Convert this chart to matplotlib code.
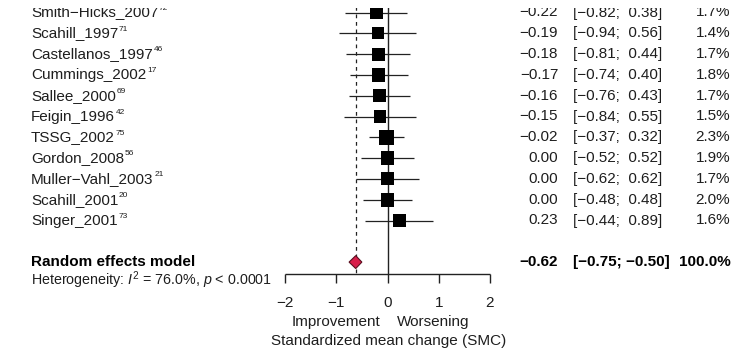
import matplotlib
matplotlib.use("Agg")
import matplotlib.pyplot as plt
from matplotlib.patches import Polygon, Rectangle
import numpy as np

plt.rcParams['font.family'] = ['Liberation Sans', 'DejaVu Sans']
plt.rcParams['mathtext.fontset'] = 'custom'
plt.rcParams['mathtext.rm'] = 'Liberation Sans'
plt.rcParams['mathtext.it'] = 'Liberation Sans:italic'
plt.rcParams['mathtext.bf'] = 'Liberation Sans:bold'

# Study-level data
studies = ["Smith\u2212Hicks_2007", "Scahill_1997", "Castellanos_1997", "Cummings_2002",
           "Sallee_2000", "Feigin_1996", "TSSG_2002", "Gordon_2008",
           "Muller\u2212Vahl_2003", "Scahill_2001", "Singer_2001"]
refs = ["72", "71", "46", "17", "69", "42", "75", "56", "21", "20", "73"]
smc = [-0.22, -0.19, -0.18, -0.17, -0.16, -0.15, -0.02, 0.00, 0.00, 0.00, 0.23]
ci_lo = [-0.82, -0.94, -0.81, -0.74, -0.76, -0.84, -0.37, -0.52, -0.62, -0.48, -0.44]
ci_hi = [0.38, 0.56, 0.44, 0.40, 0.43, 0.55, 0.32, 0.52, 0.62, 0.48, 0.89]
weights = [1.7, 1.4, 1.7, 1.8, 1.7, 1.5, 2.3, 1.9, 1.7, 2.0, 1.6]

# Pooled random-effects estimate
re_est, re_lo, re_hi, re_weight = -0.62, -0.75, -0.50, 100.0

xticks = [-2, -1, 0, 1, 2]

TXT = '#1e1e1e'


def fmt(v):
    return f"{v:.2f}".replace('-', '\u2212')


fig = plt.figure(figsize=(7.51, 3.51), dpi=100)
ax = fig.add_axes([0, 0, 1, 1])
ax.set_axis_off()
# x in SMC units, y in row units (row 0 = first study)
px_per_unit = 51.25
x0_px = 387.5
ax.set_xlim(-x0_px / px_per_unit, (751 - x0_px) / px_per_unit)
row_h = 20.8
y0_px = 12.5
ax.set_ylim((351 - y0_px) / row_h, -y0_px / row_h)

n = len(studies)
rows = np.arange(n)
sum_row = 12
het_row = 12.85
axis_y = 12.55

x_label = -6.955
x_est = 3.33
x_ci = 3.62
x_w = 6.69
fs = 11

# reference lines
ax.vlines(0, -1, axis_y, color='#222222', lw=1.0, zorder=1)
ax.vlines(re_est, -1, axis_y, color='#222222', lw=0.9, linestyles=(0, (3, 3)), zorder=1)

# confidence intervals and weighted squares
ax.hlines(rows, ci_lo, ci_hi, color='#222222', lw=0.9, zorder=2)
sizes = 50.7 * np.array(weights)
ax.scatter(smc, rows, s=sizes, marker='s', color='black', zorder=3, linewidths=0)

# summary diamond
dh = 0.31
diamond = Polygon([(re_lo, sum_row), (re_est, sum_row - dh), (re_hi, sum_row), (re_est, sum_row + dh)],
                  closed=True, facecolor='#d81e4a', edgecolor='#5a1020', lw=0.8, zorder=4)
ax.add_patch(diamond)

# x axis
ax.hlines(axis_y, xticks[0], xticks[-1], color='#222222', lw=1.0)
ax.vlines(xticks, axis_y, axis_y + 0.45, color='#222222', lw=1.0)
for t in xticks:
    ax.text(t, 13.95, fmt(t).replace('.00', ''), ha='center', va='center', fontsize=fs, color=TXT)
ax.text(-1.0, 14.88, "Improvement", ha='center', va='center', fontsize=fs, color=TXT)
ax.text(0.89, 14.88, "Worsening", ha='center', va='center', fontsize=fs, color=TXT)
ax.text(0.03, 15.8, "Standardized mean change (SMC)", ha='center', va='center', fontsize=fs, color=TXT)

# study labels and numeric columns
for i in range(n):
    lab = ax.text(x_label, i, studies[i], ha='left', va='center', fontsize=fs, color=TXT)
    ax.annotate(refs[i], xy=(1.0, 0.8), xycoords=lab, xytext=(0.4, 0), textcoords='offset points',
                ha='left', va='center', fontsize=6, color=TXT)
    ax.text(x_est, i, fmt(smc[i]), ha='right', va='center', fontsize=fs, color=TXT)
    sep = ';  ' if ci_hi[i] >= 0 else '; '
    ax.text(x_ci, i, f"[{fmt(ci_lo[i])}{sep}{fmt(ci_hi[i])}]",
            ha='left', va='center', fontsize=fs, color=TXT)
    ax.text(x_w, i, f"{weights[i]:.1f}%", ha='right', va='center', fontsize=fs, color=TXT)

# summary row
ax.text(x_label, sum_row, "Random effects model", ha='left', va='center', fontsize=fs,
        fontweight='bold', color='black')
ax.text(x_est, sum_row, fmt(re_est), ha='right', va='center', fontsize=fs, fontweight='bold', color='black')
ax.text(x_ci, sum_row, f"[{fmt(re_lo)}; {fmt(re_hi)}]", ha='left', va='center', fontsize=fs,
        fontweight='bold', color='black')
ax.text(x_w, sum_row, f"{re_weight:.1f}%", ha='right', va='center', fontsize=fs, fontweight='bold', color='black')
ax.text(x_label, het_row, r"Heterogeneity: $I^2$ = 76.0%, $p$ < 0.0001", ha='left', va='center',
        fontsize=10.3, color=TXT)

# page edge: the figure starts partway through the first row
fig.patches.append(Rectangle((0, 1 - 8 / 351), 1, 8 / 351, transform=fig.transFigure,
                             facecolor='white', edgecolor='none', zorder=10))

fig.savefig("out.png", dpi=100, facecolor='white')
